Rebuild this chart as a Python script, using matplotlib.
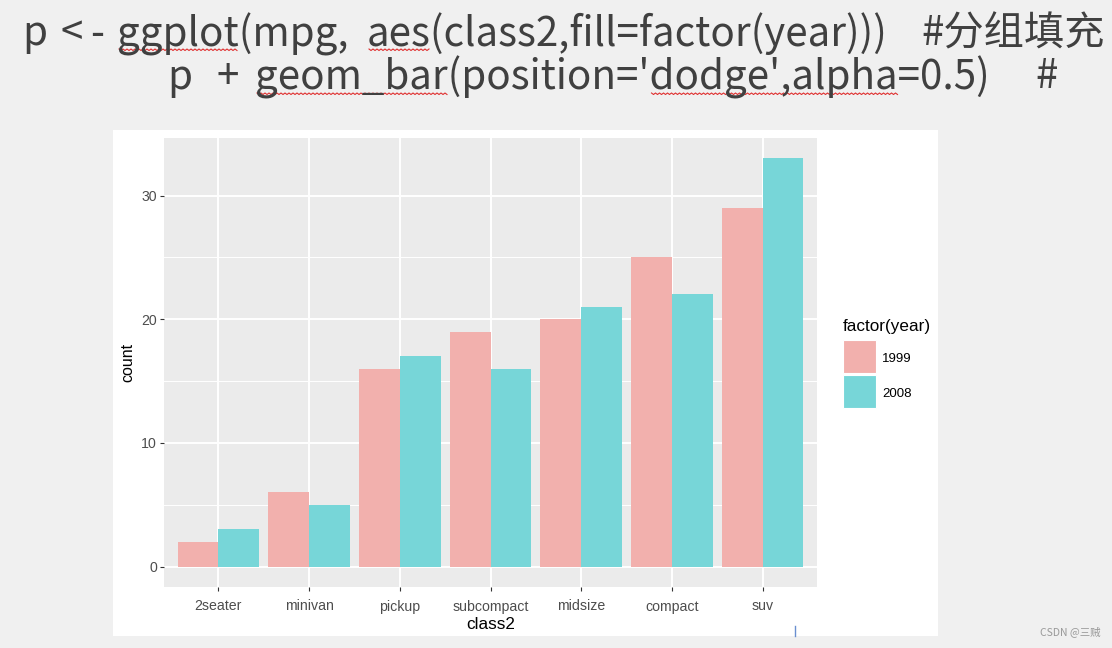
import matplotlib
matplotlib.use("Agg")
import matplotlib.pyplot as plt
from matplotlib.patches import Rectangle
from matplotlib.lines import Line2D
import numpy as np

# ---- data ----
categories = ["2seater", "minivan", "pickup", "subcompact", "midsize", "compact", "suv"]
years = ["1999", "2008"]
count_1999 = [2, 6, 16, 19, 20, 25, 29]
count_2008 = [3, 5, 17, 16, 21, 22, 33]
y_ticks = [0, 10, 20, 30]
# code text shown above the chart, split into pieces as spaced in the screenshot
title_line1 = ["p", "<", "-", "ggplot(mpg,", "aes(class2,fill=factor(year)))", "#分组填充"]
title_line2 = ["p", "+", "geom_bar(position='dodge',alpha=0.5)", "#"]
# words flagged by the spell checker
flagged1 = ["ggplot", "aes"]
flagged2 = ["geom_bar", "dodge',alpha"]

W, H = 1112, 648
fig = plt.figure(figsize=(W / 100, H / 100), dpi=100)
fig.patch.set_facecolor("#f0f0f0")

def fx(x):
    return x / W

def fy(y):
    return 1 - y / H

# white plot background (screenshot area)
fig.add_artist(Rectangle((fx(113), fy(636)), fx(938) - fx(113), fy(130) - fy(636),
                         transform=fig.transFigure, facecolor="white", edgecolor="none", zorder=0))

# panel
left, right, top, bottom = 164, 817, 138, 587
ax = fig.add_axes([fx(left), fy(bottom), fx(right) - fx(left), fy(top) - fy(bottom)])
ax.set_facecolor("#ebebeb")
for s in ax.spines.values():
    s.set_visible(False)

c1999 = "#f2b0ad"
c2008 = "#77d6d8"
x = np.arange(len(categories))
w = 0.45
ax.bar(x - w / 2, count_1999, width=w, color=c1999, zorder=3)
ax.bar(x + w / 2, count_2008, width=w, color=c2008, zorder=3)

ymax = max(max(count_1999), max(count_2008))
ax.set_ylim(-0.05 * ymax, 1.05 * ymax)
ax.set_xlim(-0.6, len(categories) - 0.4)

ax.set_yticks(y_ticks)
ax.set_yticks([5, 15, 25], minor=True)
ax.set_xticks(x)
ax.set_xticklabels(categories)
ax.grid(True, which="major", color="white", linewidth=1.4, zorder=1)
ax.grid(True, which="minor", axis="y", color="white", linewidth=0.7, zorder=1)
ax.set_axisbelow(True)
ax.tick_params(axis="both", which="major", length=3, width=0.8, color="#333333",
               labelcolor="#4d4d4d", labelsize=10.2)
ax.tick_params(axis="y", which="major", pad=2)
ax.tick_params(axis="x", which="major", pad=6)
ax.tick_params(axis="y", which="minor", length=0)
for lab in ax.get_xticklabels() + ax.get_yticklabels():
    lab.set_family("Liberation Sans")

ax.set_xlabel("class2", family="Liberation Sans", fontsize=12.3, color="black", labelpad=2.5)
ax.set_ylabel("count", family="Liberation Sans", fontsize=11.5, color="black", labelpad=4)

# legend (manual, ggplot style)
fig.text(fx(843), fy(326), "factor(year)", family="Liberation Sans", fontsize=12.3,
         color="black", ha="left", va="center")
for i, (yr, col) in enumerate(zip(years, [c1999, c2008])):
    y0 = 340 + i * 35
    fig.add_artist(Rectangle((fx(843), fy(y0 + 33)), fx(876) - fx(843), fy(y0) - fy(y0 + 33),
                             transform=fig.transFigure, facecolor=col, edgecolor="white",
                             linewidth=0.8))
    fig.text(fx(882), fy(y0 + 19), yr, family="Liberation Sans", fontsize=9.5,
             color="black", ha="left", va="center")

# title (code text)
fam = ["Noto Sans CJK SC", "DejaVu Sans"]
tsize = 29
renderer = fig.canvas.get_renderer()

def text_width(s):
    t = fig.text(0, 0, s, family=fam, fontsize=tsize)
    wpx = t.get_window_extent(renderer=renderer).width
    t.remove()
    return wpx

def wavy(x0, x1, y):
    xs = np.arange(x0, x1 + 1, 2.0)
    ys = y + np.where((np.arange(len(xs)) % 2) == 0, 0, 1.5)
    fig.add_artist(Line2D(fx(xs), fy(ys), transform=fig.transFigure, color="#e03030",
                          linewidth=0.8))

def title_line(pieces, xs, yc, flagged, yline):
    for s, x0 in zip(pieces, xs):
        fig.text(fx(x0), fy(yc), s, family=fam, fontsize=tsize, color="#404040",
                 ha="left", va="center")
        for word in flagged:
            if word in s:
                i = s.index(word)
                a = x0 + (text_width(s[:i]) if i > 0 else 0)
                b = x0 + text_width(s[:i + len(word)])
                wavy(a + 2, b - 1, yline)

title_line(title_line1, [22, 61, 90, 117, 367, 921], 34, flagged1, 49)
title_line(title_line2, [167, 217, 255, 1035], 77, flagged2, 93)

# cursor mark
fig.add_artist(Line2D([fx(795), fx(795)], [fy(626), fy(636)], transform=fig.transFigure,
                      color="#6a8fd0", linewidth=1))

# watermark
fig.text(fx(1100), fy(632), "CSDN @三贼", family=fam, fontsize=7.5, color="#999999",
         ha="right", va="center")

fig.savefig("out.png", dpi=100, facecolor=fig.get_facecolor())
